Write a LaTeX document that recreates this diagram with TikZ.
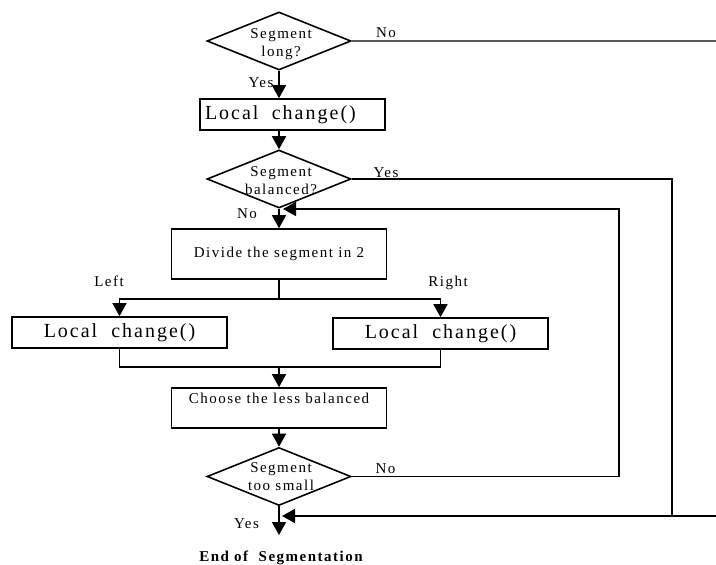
\documentclass[tikz,border=0pt]{standalone}
\usepackage{fontspec}
\setmainfont{Liberation Serif}
\newfontfamily\spaced{Liberation Serif}[LetterSpace=10]
\usetikzlibrary{arrows.meta,shapes.geometric}
\begin{document}
\begin{tikzpicture}[x=1pt,y=-1pt,
  link/.style={draw=black, line width=1.6pt},
  arr/.style={link,-{Triangle[width=14pt,length=13pt]}},
  decision/.style={diamond, draw, line width=1.6pt, minimum width=144pt,
    minimum height=58pt, inner sep=0pt},
  dtext/.style={align=center, inner sep=0pt,
    font=\spaced\fontsize{15}{18}\selectfont},
  stepbox/.style={rectangle, draw, line width=1.6pt, inner sep=0pt,
    minimum height=31pt, minimum width=215pt},
  bigtext/.style={font=\spaced\fontsize{20}{24}\selectfont},
  smalltext/.style={font=\spaced\fontsize{15}{18}\selectfont},
  lbl/.style={anchor=base, inner sep=0pt,
    font=\spaced\fontsize{15}{18}\selectfont},
]
\useasboundingbox (0,0) rectangle (716,565);

% decisions
\node[decision] (d1) at (279,41) {};
\node[dtext] (d1t) at (281,44) {Segment\\long?};
\node[decision] (d2) at (279,179) {};
\node[dtext] (d2t) at (281,181) {Segment\\balanced?};
\node[decision] (d3) at (279,476.5) {};
\node[dtext] (d3t) at (281,477) {Segment\\too small};

% process boxes
\node[stepbox, minimum width=185pt, text width=175pt, inner xsep=5pt,
  align=left, bigtext] (b1) at (292.5,114.5) {Local\ \ change()};
\node[stepbox, minimum height=50pt, smalltext] (b2) at (279,254)
  {Divide the segment in 2};
\node[stepbox, bigtext] (b3) at (119.5,332.5) {Local\ \ change()};
\node[stepbox, bigtext] (b4) at (440.5,333.5) {Local\ \ change()};
\node[stepbox, smalltext, text height=15pt, text depth=25pt] (b5)
  at (279,408) {Choose the less balanced};

% junctions and corners
\coordinate (j1) at (279,299);
\coordinate (j2) at (279,367);
\coordinate (loopI) at (619,209);
\coordinate (loopTip) at (283,209);
\coordinate (loopO) at (672,516);
\coordinate (mergeTip) at (282,516);
\coordinate (edgeTop) at (716,41);
\coordinate (edgeBot) at (716,516);
\coordinate (endTip) at (279,535);

% connectors
\draw[link, draw=black!65] (d1.east) -- (edgeTop);
\draw[arr] (d1.south) -- (d1.south |- b1.north);
\draw[arr] (d1.south |- b1.south) -- (d2.north);
\draw[arr] (d2.south) -- (d2.south |- b2.north);
\draw[link] (b2.south) -- (j1);
\draw[arr] (j1) -| (b3.north);
\draw[arr] (j1) -| (b4.north);
\draw[link] (b3.south) |- (j2);
\draw[link] (b4.south) |- (j2);
\draw[arr] (j2) -- (j2 |- b5.north);
\draw[arr] (b5.south) -- (d3.north);
\draw[arr] (d3.south) -- (endTip);
\draw[arr] (d3.east) -| (loopI) -- (loopTip);
\draw[link] (d2.east) -| (loopO);
\draw[arr] (edgeBot) -- (mergeTip);

% branch labels
\node[lbl] (n1) at (386,37) {No};
\node[lbl] (y1) at (261,87) {Yes};
\node[lbl] (y2) at (386,177) {Yes};
\node[lbl] (n2) at (247,218) {No};
\node[lbl] (lf) at (109,286) {Left};
\node[lbl] (rt) at (448,286) {Right};
\node[lbl] (n3) at (385.5,473) {No};
\node[lbl] (y3) at (246.5,528) {Yes};
\node[lbl, font=\spaced\bfseries\fontsize{15}{18}\selectfont] (done)
  at (281,561) {End of\ \ Segmentation};
\end{tikzpicture}
\end{document}
